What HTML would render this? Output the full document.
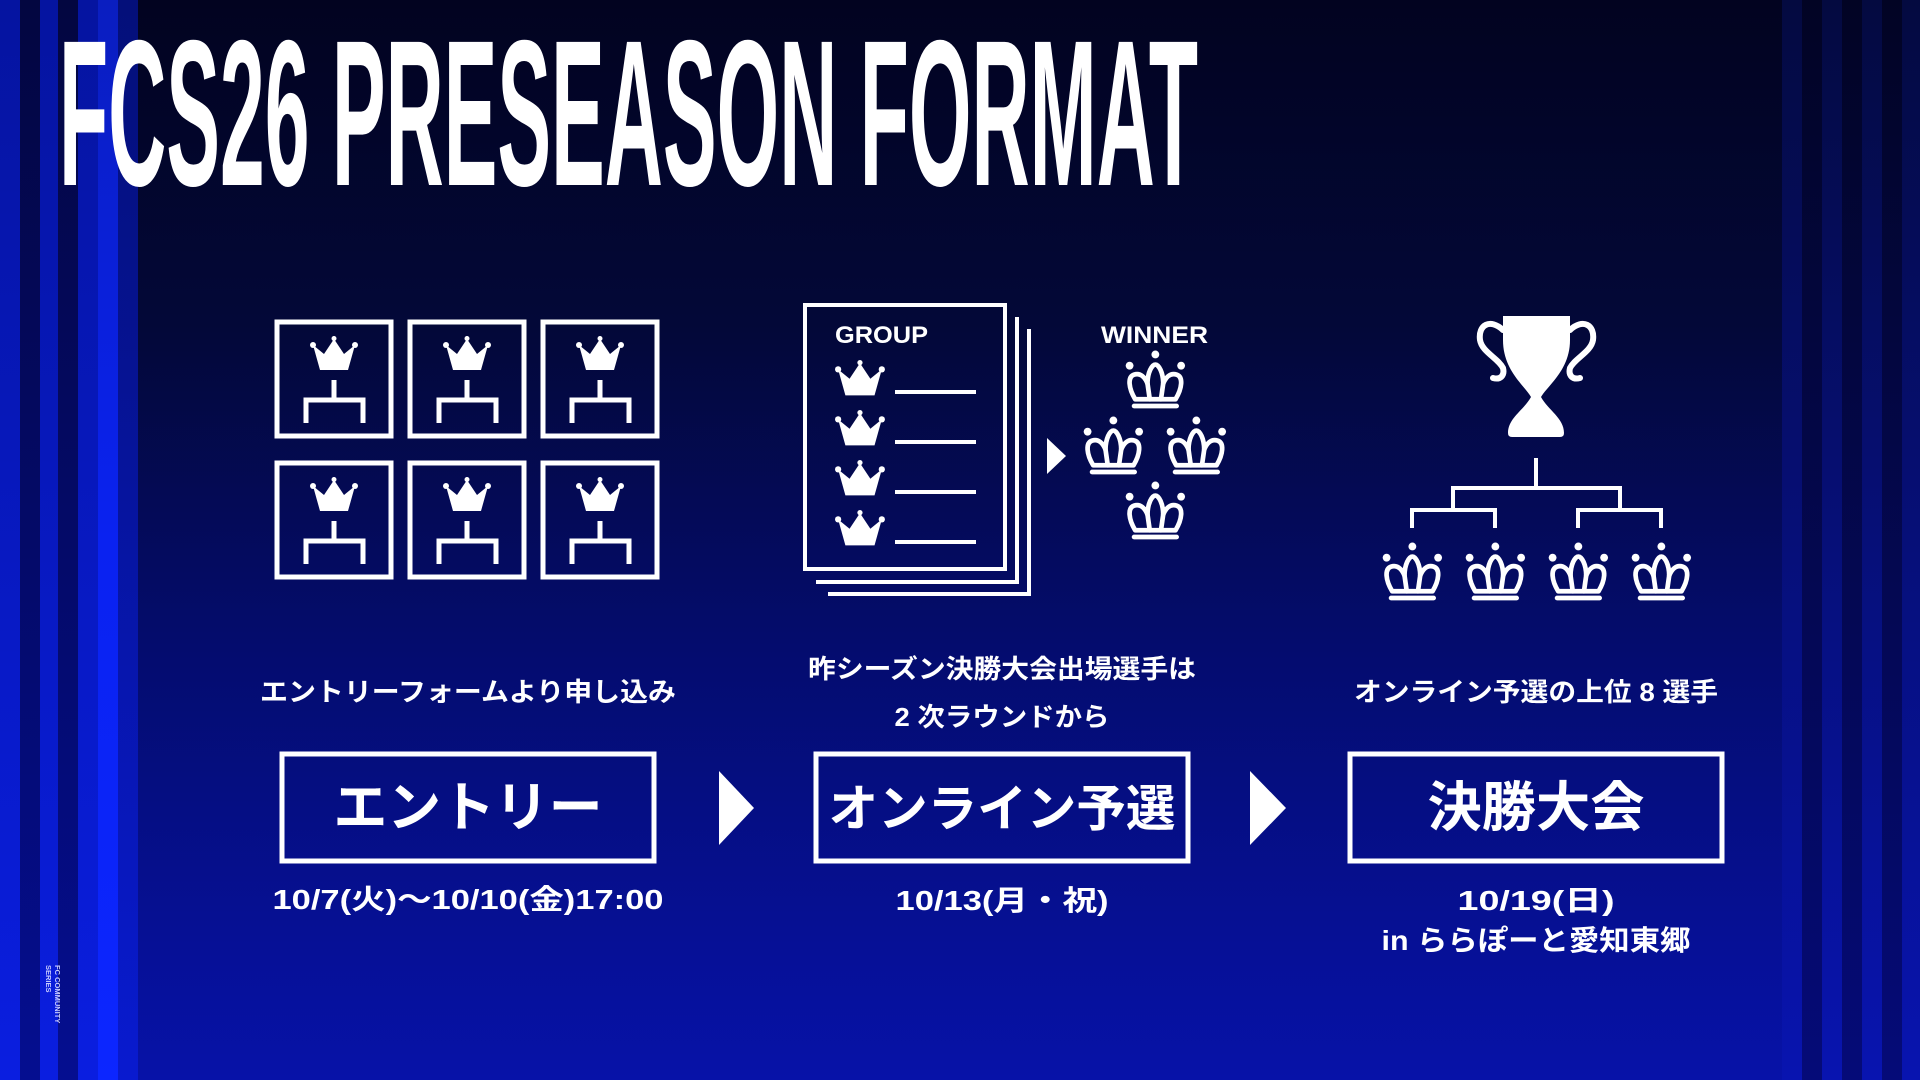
<!DOCTYPE html>
<html><head><meta charset="utf-8"><style>
html,body{margin:0;padding:0;width:1920px;height:1080px;overflow:hidden;background:#030733}
svg{display:block}
text{font-family:"Liberation Sans","Noto Sans CJK JP",sans-serif;fill:#fff;font-weight:bold}
</style></head><body>
<svg width="1920" height="1080" viewBox="0 0 1920 1080" xmlns="http://www.w3.org/2000/svg">
<defs>
<linearGradient id="bg" x1="0" y1="0" x2="0" y2="1">
<stop offset="0" stop-color="#020320"/>
<stop offset="0.3" stop-color="#030838"/>
<stop offset="0.6" stop-color="#040c6e"/>
<stop offset="1" stop-color="#0712a8"/>
</linearGradient>
<linearGradient id="ls" x1="0" y1="0" x2="0" y2="1">
<stop offset="0" stop-color="#0514a0"/>
<stop offset="1" stop-color="#0a1ee0"/>
</linearGradient>
<linearGradient id="lsb" x1="0" y1="0" x2="0" y2="1">
<stop offset="0" stop-color="#0a1ec0"/>
<stop offset="0.5" stop-color="#0a22f0"/>
<stop offset="1" stop-color="#0c26ff"/>
</linearGradient>
<linearGradient id="ld" x1="0" y1="0" x2="0" y2="1">
<stop offset="0" stop-color="#030640"/>
<stop offset="1" stop-color="#050e90"/>
</linearGradient>
<linearGradient id="rs" x1="0" y1="0" x2="0" y2="1">
<stop offset="0" stop-color="#040a40"/>
<stop offset="1" stop-color="#0814b0"/>
</linearGradient>
<linearGradient id="rd" x1="0" y1="0" x2="0" y2="1">
<stop offset="0" stop-color="#020424"/>
<stop offset="1" stop-color="#050b78"/>
</linearGradient>
<g id="sc">
<circle cx="3" cy="9" r="3"/><circle cx="24" cy="2.5" r="2.5"/><circle cx="45" cy="9" r="3"/>
<polygon points="3,9 14,18 24,3 34,18 45,9 38,34 10,34"/>
</g>
<g id="oc0" fill="none" stroke="#fff" stroke-width="4.2" stroke-linecap="round" stroke-linejoin="round">
<path d="M10 44 C4 34 3 24 9 22 C15 20 19 25 21 30 C21 20 25 13 28 13 C31 13 35 20 35 30 C37 25 41 20 47 22 C53 24 52 34 46 44 Z"/>
<path d="M21 30 L23 44 M35 30 L33 44"/>
<path d="M9 50 H47"/>
<circle cx="28" cy="4" r="3.5" fill="#fff" stroke="none"/>
<circle cx="5" cy="14" r="3.5" fill="#fff" stroke="none"/>
<circle cx="51" cy="14" r="3.5" fill="#fff" stroke="none"/>
</g>
<g id="oc"><use href="#oc0" transform="translate(-3 -2) scale(1.12)"/></g>
<g id="tb">
<rect x="0" y="0" width="114" height="114" fill="none" stroke="#fff" stroke-width="5"/>
<use href="#sc" x="33" y="14" fill="#fff"/>
<path d="M57 58 V78 M29 101 V78 H86 V101" fill="none" stroke="#fff" stroke-width="5"/>
</g>
</defs>
<rect width="1920" height="1080" fill="url(#bg)"/>
<rect x="0" y="0" width="20" height="1080" fill="url(#ls)"/>
<rect x="20" y="0" width="20" height="1080" fill="url(#ld)"/>
<rect x="40" y="0" width="18" height="1080" fill="url(#ls)"/>
<rect x="58" y="0" width="20" height="1080" fill="url(#ld)"/>
<rect x="78" y="0" width="20" height="1080" fill="url(#ls)"/>
<rect x="98" y="0" width="20" height="1080" fill="url(#lsb)"/>
<rect x="118" y="0" width="20" height="1080" fill="url(#ls)" opacity="0.7"/>
<rect x="1782" y="0" width="20" height="1080" fill="url(#rs)"/>
<rect x="1802" y="0" width="20" height="1080" fill="url(#rd)"/>
<rect x="1822" y="0" width="20" height="1080" fill="url(#rs)"/>
<rect x="1842" y="0" width="20" height="1080" fill="url(#rd)"/>
<rect x="1862" y="0" width="20" height="1080" fill="url(#rs)"/>
<rect x="1882" y="0" width="20" height="1080" fill="url(#rd)"/>
<rect x="1902" y="0" width="18" height="1080" fill="url(#rs)"/>

<text x="59" y="185" font-size="208" textLength="1139" lengthAdjust="spacingAndGlyphs">FCS26 PRESEASON FORMAT</text>

<use href="#tb" x="277" y="322"/><use href="#tb" x="410" y="322"/><use href="#tb" x="543" y="322"/>
<use href="#tb" x="277" y="463"/><use href="#tb" x="410" y="463"/><use href="#tb" x="543" y="463"/>

<g fill="none" stroke="#fff" stroke-width="4">
<rect x="805" y="305" width="200" height="264"/>
<path d="M1017 317 V582 H816"/>
<path d="M1029 329 V594 H828"/>
<path d="M895 392 H976 M895 442 H976 M895 492 H976 M895 542 H976"/>
</g>
<text x="835" y="343" font-size="24" textLength="93" lengthAdjust="spacingAndGlyphs">GROUP</text>
<g fill="#fff">
<use href="#sc" x="835" y="360" transform="translate(835 360) scale(1.04) translate(-835 -360)"/>
<use href="#sc" x="835" y="410" transform="translate(835 410) scale(1.04) translate(-835 -410)"/>
<use href="#sc" x="835" y="460" transform="translate(835 460) scale(1.04) translate(-835 -460)"/>
<use href="#sc" x="835" y="510" transform="translate(835 510) scale(1.04) translate(-835 -510)"/>
</g>
<polygon points="1047,438 1066,456 1047,474" fill="#fff"/>
<text x="1101" y="343" font-size="24" textLength="107" lengthAdjust="spacingAndGlyphs">WINNER</text>
<use href="#oc" x="1127" y="352"/>
<use href="#oc" x="1085" y="418"/>
<use href="#oc" x="1168" y="418"/>
<use href="#oc" x="1127" y="483"/>

<g fill="#fff">
<path d="M1503 316 H1570 V340 C1570 370 1548 385 1541 397 C1548 410 1564 418 1564 433 Q1564 437 1560 437 H1512 Q1508 437 1508 433 C1508 418 1524 410 1531 397 C1524 385 1503 370 1503 340 Z"/>
</g>
<g fill="none" stroke="#fff" stroke-width="6" stroke-linecap="round">
<path d="M1503 330 C1490 318 1478 325 1480 340 C1482 352 1498 358 1503 368 C1505 376 1500 380 1493 378"/>
<path d="M1570 330 C1583 318 1595 325 1593 340 C1591 352 1575 358 1570 368 C1568 376 1573 380 1580 378"/>
</g>
<g fill="none" stroke="#fff" stroke-width="4">
<path d="M1536 458 V488 M1453 510 V488 H1620 V510"/>
<path d="M1412 528 V510 H1495 V528 M1578 528 V510 H1661 V528"/>
</g>
<use href="#oc" x="1384" y="544"/>
<use href="#oc" x="1467" y="544"/>
<use href="#oc" x="1550" y="544"/>
<use href="#oc" x="1633" y="544"/>

<text x="468" y="701" font-size="26" text-anchor="middle" textLength="416" lengthAdjust="spacingAndGlyphs">エントリーフォームより申し込み</text>
<text x="1002" y="678" font-size="26" text-anchor="middle" textLength="388" lengthAdjust="spacingAndGlyphs">昨シーズン決勝大会出場選手は</text>
<text x="1002" y="726" font-size="26" text-anchor="middle" textLength="215" lengthAdjust="spacingAndGlyphs">2 次ラウンドから</text>
<text x="1536" y="701" font-size="26" text-anchor="middle" textLength="364" lengthAdjust="spacingAndGlyphs">オンライン予選の上位 8 選手</text>

<g fill="none" stroke="#fff" stroke-width="5">
<rect x="282" y="754" width="372" height="107"/>
<rect x="816" y="754" width="372" height="107"/>
<rect x="1350" y="754" width="372" height="107"/>
</g>
<polygon points="719,771 754,808 719,845" fill="#fff"/>
<polygon points="1250,771 1286,808 1250,845" fill="#fff"/>
<text x="468" y="826" font-size="54" text-anchor="middle" textLength="269" lengthAdjust="spacingAndGlyphs">エントリー</text>
<text x="1002" y="826" font-size="50" text-anchor="middle" textLength="347" lengthAdjust="spacingAndGlyphs">オンライン予選</text>
<text x="1536" y="826" font-size="54" text-anchor="middle" textLength="217" lengthAdjust="spacingAndGlyphs">決勝大会</text>

<text x="468" y="909" font-size="28" text-anchor="middle" textLength="391" lengthAdjust="spacingAndGlyphs">10/7(火)～10/10(金)17:00</text>
<text x="1002" y="910" font-size="28" text-anchor="middle" textLength="213" lengthAdjust="spacingAndGlyphs">10/13(月・祝)</text>
<text x="1536" y="910" font-size="28" text-anchor="middle" textLength="157" lengthAdjust="spacingAndGlyphs">10/19(日)</text>
<text x="1536" y="950" font-size="28" text-anchor="middle" textLength="309" lengthAdjust="spacingAndGlyphs">in ららぽーと愛知東郷</text>

<g transform="translate(55 965) rotate(90)">
<text x="0" y="0" font-size="7.5" style="fill:#c8ccff">FC COMMUNITY</text>
<text x="0" y="9" font-size="7.5" style="fill:#c8ccff">SERIES</text>
</g>
</svg>
</body></html>
